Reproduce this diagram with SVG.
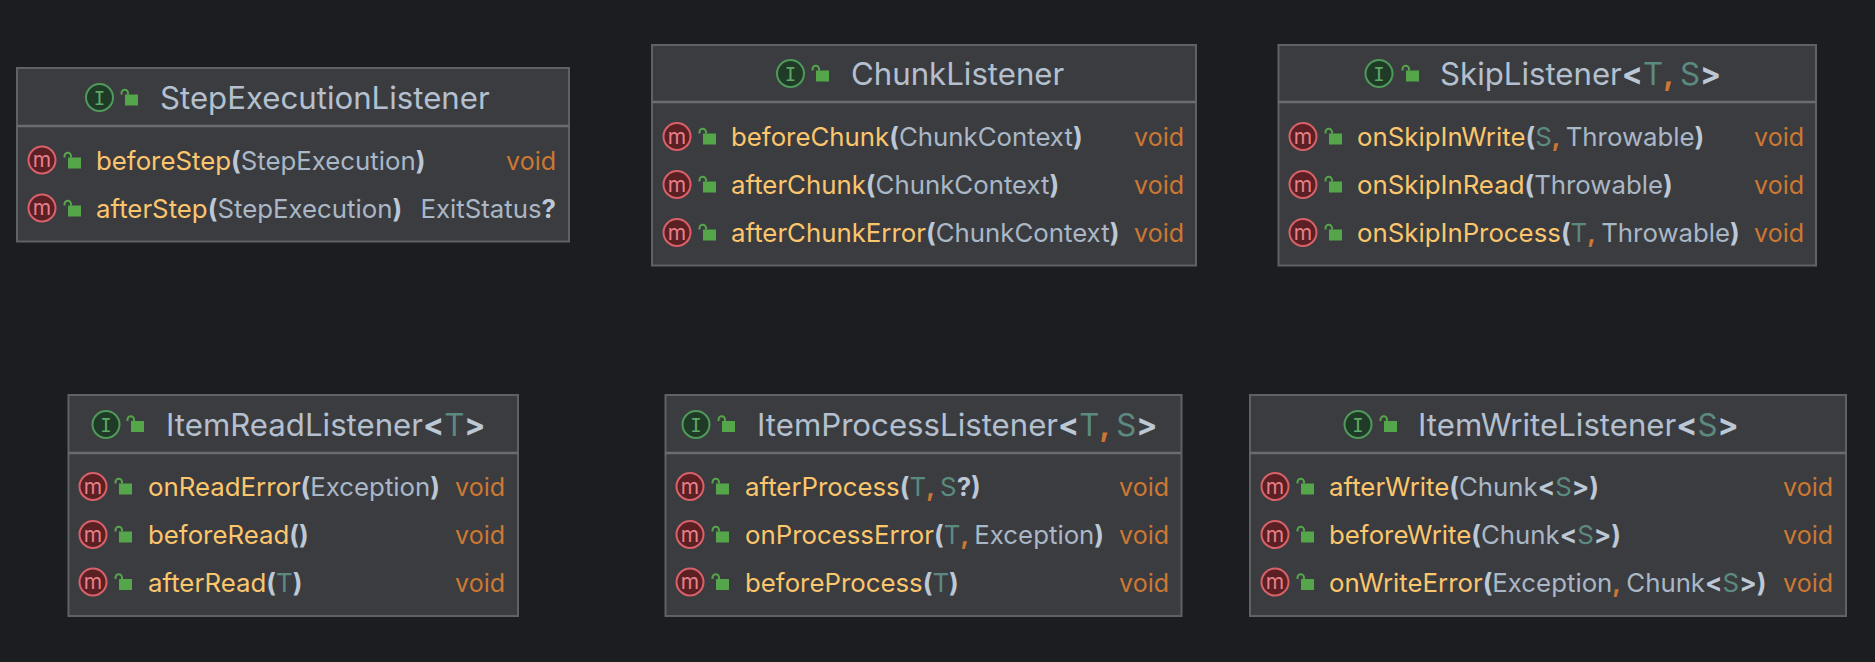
<svg xmlns="http://www.w3.org/2000/svg" width="1875" height="662" viewBox="0 0 1875 662">
<style>
text{font-family:Inter,"Liberation Sans",sans-serif}
.box{fill:#3b3c3f;stroke:#5f6265;stroke-width:2}
.sep{stroke:#6a6d70;stroke-width:2.5}
.ttl{font-size:31.2px;fill:#b4c0cf}
.row{font-size:25.8px;fill:#a9b7c6}
.fn{fill:#fcc66d}
.p{font-weight:700;fill:#bcc8d6}
.g{fill:#5c8a80}
.o{fill:#cc7832;font-weight:700}
.v{fill:#cc7832;text-anchor:end;font-size:25px}
.rt{text-anchor:end}
.ci{fill:#1f3b27;stroke:#4f9a5a;stroke-width:2}
.ct{font-size:19px;fill:#5fa768;text-anchor:middle;font-family:"DejaVu Sans Mono",monospace}
.cm{fill:#5a2024;stroke:#d9616a;stroke-width:2}
.mt{font-size:21px;fill:#e8808a;text-anchor:middle}
.lk{fill:#55a64a}
.ls{fill:none;stroke:#55a64a;stroke-width:2}
</style>
<defs>
<g id="lock"><rect class="lk" x="-4" y="-3.500" width="13" height="11"/><path class="ls" d="M-1-3.500V-5A3.200 3.200 0 0 0-7.500-5V-3.500"/></g>
<g id="mc"><circle class="cm" r="13.500"/></g>
<g id="ic"><circle class="ci" r="13.500"/></g>
</defs>
<rect width="1875" height="662" fill="#1c1d20"/>
<g id="connectors"/>

<g id="StepExecutionListener">
<rect class="box" x="17" y="68" width="552" height="173.500"/>
<line class="sep" x1="17" y1="126" x2="569" y2="126"/>
<use href="#ic" x="99.500" y="97.500"/><text class="ct" x="99.500" y="104.500">I</text><use href="#lock" x="129" y="98"/>
<text class="ttl" x="160" y="109">StepExecutionListener</text>
<use href="#mc" x="42" y="160"/><text class="mt" x="42" y="167">m</text><use href="#lock" x="72" y="161"/>
<text class="row" x="96" y="170"><tspan class="fn">beforeStep</tspan><tspan class="p">(</tspan>StepExecution<tspan class="p">)</tspan></text><text class="row v" x="556" y="170">void</text>
<use href="#mc" x="42" y="208"/><text class="mt" x="42" y="215">m</text><use href="#lock" x="72" y="209"/>
<text class="row" x="96" y="218"><tspan class="fn">afterStep</tspan><tspan class="p">(</tspan>StepExecution<tspan class="p">)</tspan></text><text class="row rt" x="556" y="218">ExitStatus<tspan class="p">?</tspan></text>
</g>

<g id="ChunkListener">
<rect class="box" x="652" y="45" width="544" height="220.500"/>
<line class="sep" x1="652" y1="102" x2="1196" y2="102"/>
<use href="#ic" x="790.500" y="73.500"/><text class="ct" x="790.500" y="80.500">I</text><use href="#lock" x="820" y="74"/>
<text class="ttl" x="851" y="85">ChunkListener</text>
<use href="#mc" x="677" y="136.500"/><text class="mt" x="677" y="143.500">m</text><use href="#lock" x="707" y="137"/>
<text class="row" x="731" y="146"><tspan class="fn">beforeChunk</tspan><tspan class="p">(</tspan>ChunkContext<tspan class="p">)</tspan></text><text class="row v" x="1184" y="146">void</text>
<use href="#mc" x="677" y="184.500"/><text class="mt" x="677" y="191.500">m</text><use href="#lock" x="707" y="185"/>
<text class="row" x="731" y="194"><tspan class="fn">afterChunk</tspan><tspan class="p">(</tspan>ChunkContext<tspan class="p">)</tspan></text><text class="row v" x="1184" y="194">void</text>
<use href="#mc" x="677" y="232.500"/><text class="mt" x="677" y="239.500">m</text><use href="#lock" x="707" y="233"/>
<text class="row" x="731" y="242"><tspan class="fn">afterChunkError</tspan><tspan class="p">(</tspan>ChunkContext<tspan class="p">)</tspan></text><text class="row v" x="1184" y="242">void</text>
</g>

<g id="SkipListener">
<rect class="box" x="1278.500" y="45" width="537.500" height="220.500"/>
<line class="sep" x1="1278" y1="102" x2="1816" y2="102"/>
<use href="#ic" x="1379" y="73.500"/><text class="ct" x="1379" y="80.500">I</text><use href="#lock" x="1410" y="74"/>
<text class="ttl" x="1440" y="85">SkipListener<tspan class="p">&lt;</tspan><tspan class="g">T</tspan><tspan class="o">, </tspan><tspan class="g">S</tspan><tspan class="p">&gt;</tspan></text>
<use href="#mc" x="1303" y="136.500"/><text class="mt" x="1303" y="143.500">m</text><use href="#lock" x="1333" y="137"/>
<text class="row" x="1357" y="146"><tspan class="fn">onSkipInWrite</tspan><tspan class="p">(</tspan><tspan class="g">S</tspan><tspan class="o">, </tspan>Throwable<tspan class="p">)</tspan></text><text class="row v" x="1804" y="146">void</text>
<use href="#mc" x="1303" y="184.500"/><text class="mt" x="1303" y="191.500">m</text><use href="#lock" x="1333" y="185"/>
<text class="row" x="1357" y="194"><tspan class="fn">onSkipInRead</tspan><tspan class="p">(</tspan>Throwable<tspan class="p">)</tspan></text><text class="row v" x="1804" y="194">void</text>
<use href="#mc" x="1303" y="232.500"/><text class="mt" x="1303" y="239.500">m</text><use href="#lock" x="1333" y="233"/>
<text class="row" x="1357" y="242"><tspan class="fn">onSkipInProcess</tspan><tspan class="p">(</tspan><tspan class="g">T</tspan><tspan class="o">, </tspan>Throwable<tspan class="p">)</tspan></text><text class="row v" x="1804" y="242">void</text>
</g>

<g id="ItemReadListener">
<rect class="box" x="68.500" y="395" width="449.500" height="221"/>
<line class="sep" x1="68" y1="453" x2="518" y2="453"/>
<use href="#ic" x="106" y="424.500"/><text class="ct" x="106" y="431.500">I</text><use href="#lock" x="135" y="424.500"/>
<text class="ttl" x="166" y="435.500">ItemReadListener<tspan class="p">&lt;</tspan><tspan class="g">T</tspan><tspan class="p">&gt;</tspan></text>
<use href="#mc" x="93" y="486.500"/><text class="mt" x="93" y="493.500">m</text><use href="#lock" x="123" y="487"/>
<text class="row" x="148" y="496"><tspan class="fn">onReadError</tspan><tspan class="p">(</tspan>Exception<tspan class="p">)</tspan></text><text class="row v" x="505" y="496">void</text>
<use href="#mc" x="93" y="534.500"/><text class="mt" x="93" y="541.500">m</text><use href="#lock" x="123" y="535"/>
<text class="row" x="148" y="544"><tspan class="fn">beforeRead</tspan><tspan class="p">()</tspan></text><text class="row v" x="505" y="544">void</text>
<use href="#mc" x="93" y="582"/><text class="mt" x="93" y="589">m</text><use href="#lock" x="123" y="582.500"/>
<text class="row" x="148" y="591.500"><tspan class="fn">afterRead</tspan><tspan class="p">(</tspan><tspan class="g">T</tspan><tspan class="p">)</tspan></text><text class="row v" x="505" y="591.500">void</text>
</g>

<g id="ItemProcessListener">
<rect class="box" x="665.500" y="395" width="516" height="221"/>
<line class="sep" x1="665" y1="453" x2="1181" y2="453"/>
<use href="#ic" x="696" y="424.500"/><text class="ct" x="696" y="431.500">I</text><use href="#lock" x="726" y="424.500"/>
<text class="ttl" x="757" y="435.500">ItemProcessListener<tspan class="p">&lt;</tspan><tspan class="g">T</tspan><tspan class="o">, </tspan><tspan class="g">S</tspan><tspan class="p">&gt;</tspan></text>
<use href="#mc" x="690" y="486.500"/><text class="mt" x="690" y="493.500">m</text><use href="#lock" x="720" y="487"/>
<text class="row" x="745" y="496"><tspan class="fn">afterProcess</tspan><tspan class="p">(</tspan><tspan class="g">T</tspan><tspan class="o">, </tspan><tspan class="g">S</tspan><tspan class="p">?)</tspan></text><text class="row v" x="1169" y="496">void</text>
<use href="#mc" x="690" y="534.500"/><text class="mt" x="690" y="541.500">m</text><use href="#lock" x="720" y="535"/>
<text class="row" x="745" y="544"><tspan class="fn">onProcessError</tspan><tspan class="p">(</tspan><tspan class="g">T</tspan><tspan class="o">, </tspan>Exception<tspan class="p">)</tspan></text><text class="row v" x="1169" y="544">void</text>
<use href="#mc" x="690" y="582"/><text class="mt" x="690" y="589">m</text><use href="#lock" x="720" y="582.500"/>
<text class="row" x="745" y="591.500"><tspan class="fn">beforeProcess</tspan><tspan class="p">(</tspan><tspan class="g">T</tspan><tspan class="p">)</tspan></text><text class="row v" x="1169" y="591.500">void</text>
</g>

<g id="ItemWriteListener">
<rect class="box" x="1250" y="395" width="596" height="221"/>
<line class="sep" x1="1250" y1="453" x2="1846" y2="453"/>
<use href="#ic" x="1358" y="424.500"/><text class="ct" x="1358" y="431.500">I</text><use href="#lock" x="1388" y="424.500"/>
<text class="ttl" x="1418" y="435.500">ItemWriteListener<tspan class="p">&lt;</tspan><tspan class="g">S</tspan><tspan class="p">&gt;</tspan></text>
<use href="#mc" x="1275" y="486.500"/><text class="mt" x="1275" y="493.500">m</text><use href="#lock" x="1305" y="487"/>
<text class="row" x="1329" y="496"><tspan class="fn">afterWrite</tspan><tspan class="p">(</tspan>Chunk<tspan class="p">&lt;</tspan><tspan class="g">S</tspan><tspan class="p">&gt;)</tspan></text><text class="row v" x="1833" y="496">void</text>
<use href="#mc" x="1275" y="534.500"/><text class="mt" x="1275" y="541.500">m</text><use href="#lock" x="1305" y="535"/>
<text class="row" x="1329" y="544"><tspan class="fn">beforeWrite</tspan><tspan class="p">(</tspan>Chunk<tspan class="p">&lt;</tspan><tspan class="g">S</tspan><tspan class="p">&gt;)</tspan></text><text class="row v" x="1833" y="544">void</text>
<use href="#mc" x="1275" y="582"/><text class="mt" x="1275" y="589">m</text><use href="#lock" x="1305" y="582.500"/>
<text class="row" x="1329" y="591.500"><tspan class="fn">onWriteError</tspan><tspan class="p">(</tspan>Exception<tspan class="o">, </tspan>Chunk<tspan class="p">&lt;</tspan><tspan class="g">S</tspan><tspan class="p">&gt;)</tspan></text><text class="row v" x="1833" y="591.500">void</text>
</g>
</svg>
